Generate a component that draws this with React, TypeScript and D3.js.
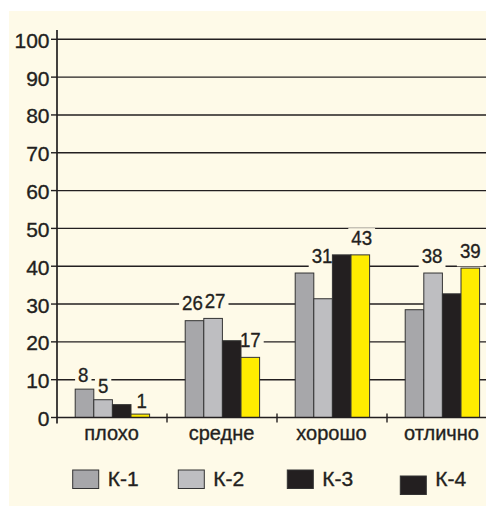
import React from "react";
import * as d3 from "d3";

const categories = ["плохо", "средне", "хорошо", "отлично"];
const seriesNames = ["К-1", "К-2", "К-3", "К-4"];
const k1 = [7.5, 25.6, 38.2, 28.5];
const k2 = [4.7, 26.2, 31.4, 38.2];
const k3 = [3.4, 20.3, 43.0, 32.7];
const k4 = [0.9, 15.9, 43.0, 39.5];
const series = [k1, k2, k3, k4];
const seriesColors = ["#a7a7aa", "#bebec1", "#231f20", "#ffec00"];
const legendColors = ["#a7a7aa", "#bebec1", "#231f20", "#231f20"];
const yTicks = [0, 10, 20, 30, 40, 50, 60, 70, 80, 90, 100];

// value labels: category index, series index, text, level (value units)
const labelCat = [0, 0, 0, 1, 1, 1, 2, 2, 3, 3];
const labelSeries = [0, 1, 3, 0, 1, 3, 1, 3, 1, 3];
const labelText = ["8", "5", "1", "26", "27", "17", "31", "43", "38", "39"];
const labelLevel = [7.1, 4.1, 0.2, 26.0, 26.7, 16.3, 38.4, 43.2, 38.4, 39.7];

const W = 486;
const H = 506;
const BG = "#fefae8";
const FONT = "'Liberation Sans', Arial, sans-serif";
const INK = "#231f20";

export default function App() {
  const left = 57;
  const y = d3.scaleLinear().domain([0, 100]).range([417.5, 39.3]);
  const x0 = d3.scaleBand<string>().domain(categories).range([left, 497]);
  const barW = 18.6;
  const groupOff = 18.2;
  const barX = (c: number, s: number) => (x0(categories[c]) as number) + groupOff + s * barW;
  const y0 = y(0);
  const labelFs = 21;
  const digitW = 10.4;
  // small horizontal nudges of value labels (layout)
  const labelNudge = [-1.2, 0, 1.4, -2, 2, 0, -1, 1.4, -1, 0];

  const legendX = [72.7, 178.3, 287.3, 400.3];
  const legendDy = [0, 0, 0, 6];
  const textStroke = { stroke: INK, strokeWidth: 0.35 };

  return (
    <svg width={W} height={H} style={{ position: "absolute", left: 0, top: 0 }} fontFamily={FONT}>
      <rect x={0} y={0} width={W} height={H} fill="#ffffff" />
      <rect x={9} y={11} width={W - 9} height={H - 11} fill={BG} />

      {/* gridlines */}
      {yTicks.filter((t) => t > 0).map((t) => (
        <line key={"g" + t} x1={left} x2={W} y1={y(t)} y2={y(t)} stroke={INK} strokeWidth={1.4} />
      ))}

      {/* label background boxes */}
      {labelText.map((t, i) => {
        const cx = barX(labelCat[i], labelSeries[i]) + barW / 2 + labelNudge[i];
        const base = y(labelLevel[i]) - 9;
        const w = t.length * digitW + 6;
        return <rect key={"lb" + i} x={cx - w / 2} y={base - 17} width={w} height={25} fill={BG} />;
      })}

      {/* y ticks and labels */}
      {yTicks.map((t) => (
        <g key={"t" + t}>
          <line x1={51} x2={left} y1={y(t)} y2={y(t)} stroke={INK} strokeWidth={1.4} />
          <text x={49.5} y={y(t) + 8.5} textAnchor="end" fontSize={21} fill={INK} {...textStroke}>
            {t}
          </text>
        </g>
      ))}

      {/* bars */}
      {series.map((vals, s) =>
        vals.map((v, c) => (
          <rect
            key={"b" + s + "-" + c}
            x={barX(c, s)}
            y={y(v)}
            width={barW}
            height={y0 - y(v)}
            fill={seriesColors[s]}
            stroke="#333333"
            strokeWidth={1}
          />
        ))
      )}

      {/* axes */}
      <line x1={left} x2={left} y1={30} y2={y0 + 6} stroke={INK} strokeWidth={1.7} />
      <line x1={left} x2={W} y1={y0} y2={y0} stroke={INK} strokeWidth={1.7} />
      {categories.slice(1).map((c) => (
        <line key={"xt" + c} x1={x0(c)} x2={x0(c)} y1={y0 - 4} y2={y0 + 5} stroke={INK} strokeWidth={1.4} />
      ))}

      {/* category labels */}
      {categories.map((c) => (
        <text
          key={"c" + c}
          x={(x0(c) as number) + x0.bandwidth() / 2 - 0.5}
          y={439.7}
          textAnchor="middle"
          fontSize={20}
          fill={INK}
          {...textStroke}
        >
          {c}
        </text>
      ))}

      {/* value labels */}
      {labelText.map((t, i) => {
        const cx = barX(labelCat[i], labelSeries[i]) + barW / 2 + labelNudge[i];
        const base = y(labelLevel[i]) - 9;
        return (
          <text
            key={"lt" + i}
            x={cx - (t.length * digitW) / 2}
            y={base}
            fontSize={labelFs}
            fill={INK}
            textLength={t.length * digitW}
            lengthAdjust="spacingAndGlyphs"
            {...textStroke}
          >
            {t}
          </text>
        );
      })}

      {/* legend */}
      {seriesNames.map((n, i) => (
        <g key={"lg" + i}>
          <rect
            x={legendX[i]}
            y={470 + legendDy[i]}
            width={26}
            height={18.5}
            fill={legendColors[i]}
            stroke="#333333"
            strokeWidth={1}
          />
          <text x={legendX[i] + 35} y={486} fontSize={21} fill={INK} {...textStroke}>
            {n}
          </text>
        </g>
      ))}
    </svg>
  );
}
